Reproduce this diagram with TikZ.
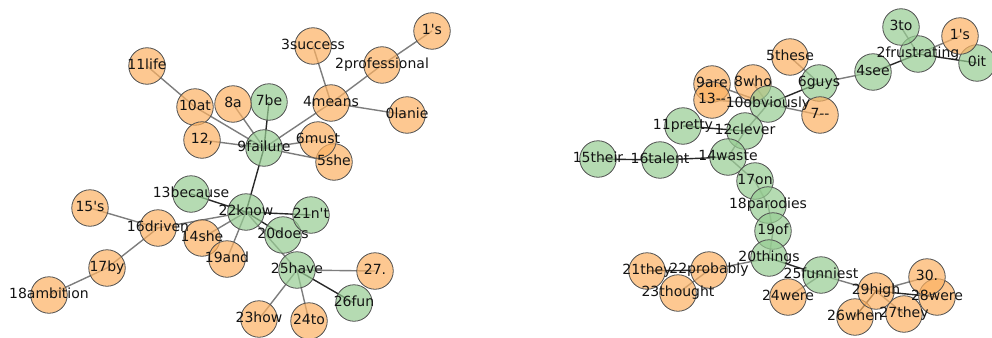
\documentclass[tikz,border=0pt]{standalone}
\usepackage{fontspec}
\setmainfont{DejaVu Sans}
\usetikzlibrary{backgrounds}
\definecolor{peach}{RGB}{252,177,98}
\definecolor{sage}{RGB}{150,204,146}
\definecolor{rim}{RGB}{80,80,80}
\definecolor{linkgray}{RGB}{125,125,125}
\definecolor{linkdark}{RGB}{40,40,40}
\definecolor{ink}{RGB}{20,20,20}

% name/x/y/fill/word
\def\leftwords{a0/407/115/peach/0lanie, a1/432/31/peach/1\textquotesingle s,
a2/382/65/peach/2professional, a3/313/46/peach/3success, a4/331/103/peach/4means,
a5/334/162/peach/5she, a6/318/140/peach/6must, a7/269/102/sage/7be,
a8/233/104/peach/8a, a9/264/148/sage/9failure, a10/195/107/peach/10at,
a11/147/66/peach/11life, a12/202/140/peach/{12,}, a13/191/194/sage/13because,
a14/202/238/peach/14she, a15/90/208/peach/15\textquotesingle s, a16/158/228/peach/16driven,
a17/107/268/peach/17by, a18/49/295/peach/18ambition, a19/227/259/peach/19and,
a20/283/235/sage/20does, a21/311/215/sage/21n\textquotesingle t, a22/246/212/sage/22know,
a23/259/319/peach/23how, a24/309/321/peach/24to, a25/297/270/sage/25have,
a26/354/303/sage/26fun, a27/375/271/peach/27.}
\def\rightwords{b0/977/63/sage/0it, b1/960/36/peach/1\textquotesingle s,
b2/918/54/sage/2frustrating, b3/901/27/sage/3to, b4/873/72/sage/4see,
b5/790/57/peach/5these, b6/819/83/sage/6guys, b7/820/115/peach/7-{}-,
b8/753/83/peach/8who, b9/712/84/peach/9are, b10/768/104/sage/10obviously,
b11/683/126/sage/11pretty, b12/745/131/sage/12clever, b13/712/100/peach/13-{}-,
b14/728/157/sage/14waste, b15/598/159/sage/15their, b16/660/160/sage/16talent,
b17/755/181/sage/17on, b18/768/205/sage/18parodies, b19/773/231/sage/19of,
b20/769/258/sage/20things, b21/647/271/peach/21they, b22/709/270/peach/22probably,
b23/678/293/peach/23thought, b24/788/297/peach/24were, b25/821/275/sage/25funniest,
b26/855/317/peach/26when, b27/904/314/peach/27they, b28/937/297/peach/28were,
b29/876/291/peach/29high, b30/927/277/peach/30.}

\begin{document}
\begin{tikzpicture}[x=1pt, y=-1pt,
  word/.style={circle, draw=rim, line width=0.8pt, fill=#1, fill opacity=0.7,
    minimum size=36.5pt, inner sep=0pt},
  wordtext/.style={text=ink, inner sep=0pt, font=\fontsize{14}{16}\selectfont,
    text height=1.45ex, text depth=0.25ex},
  link/.style={linkgray, line width=1.4pt},
  strong link/.style={linkdark, line width=1.4pt}]
\useasboundingbox (0,0) rectangle (992,337);

\foreach \n/\x/\y/\c/\t in \leftwords \node [word=\c] (\n) at (\x,\y) {};
\foreach \n/\x/\y/\c/\t in \rightwords \node [word=\c] (\n) at (\x,\y) {};

\begin{pgfonlayer}{background}
% left sentence
\foreach \u/\v in {a0/a4, a3/a4, a2/a4, a1/a2, a4/a9, a6/a9, a5/a9, a8/a9,
  a10/a9, a12/a9, a11/a10, a16/a22, a14/a22, a19/a22, a22/a25, a15/a16,
  a17/a16, a18/a17, a27/a25, a23/a25, a24/a25}
  \draw [link] (\u.center) -- (\v.center);
\foreach \u/\v in {a7/a9, a9/a22, a13/a22, a21/a22, a20/a22, a26/a25}
  \draw [strong link] (\u.center) -- (\v.center);
% right sentence
\foreach \u/\v in {b1/b2, b3/b2, b4/b6, b5/b6, b7/b10, b8/b10, b9/b10, b13/b10,
  b10/b12, b12/b14, b14/b17, b17/b18, b18/b19, b19/b20, b20/b22, b23/b22,
  b24/b25, b25/b29, b30/b29, b27/b29}
  \draw [link] (\u.center) -- (\v.center);
\foreach \u/\v in {b0/b2, b2/b4, b6/b10, b11/b12, b16/b14, b15/b16, b21/b22,
  b20/b25, b28/b29, b26/b29}
  \draw [strong link] (\u.center) -- (\v.center);
\end{pgfonlayer}

\foreach \n/\x/\y/\c/\t in \leftwords \node [wordtext] at (\n.center) {\t};
\foreach \n/\x/\y/\c/\t in \rightwords \node [wordtext] at (\n.center) {\t};

\end{tikzpicture}
\end{document}
